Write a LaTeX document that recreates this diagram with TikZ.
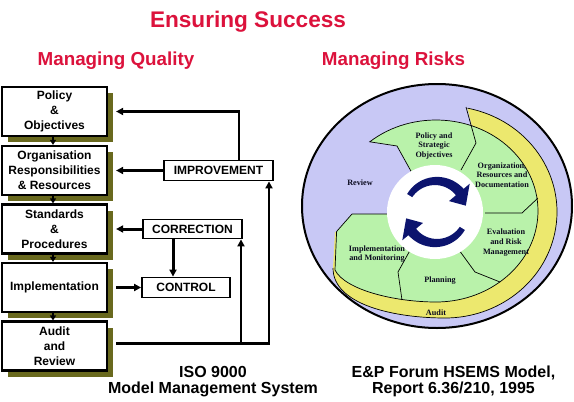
\documentclass[tikz,border=0pt]{standalone}
\usepackage{fontspec}
\setmainfont{Liberation Serif}
\newfontfamily\arialf{Liberation Sans}
\usetikzlibrary{arrows.meta,shadows}
\definecolor{ttl}{RGB}{220,18,60}
\definecolor{shd}{RGB}{105,105,30}
\definecolor{lav}{RGB}{200,200,245}
\definecolor{grn}{RGB}{185,242,170}
\definecolor{ylw}{RGB}{236,232,110}
\definecolor{nvy}{RGB}{12,20,110}
\definecolor{ctxt}{RGB}{10,10,30}
\begin{document}
\begin{tikzpicture}[x=1pt,y=-1pt,
  box/.style={draw, line width=2.2pt, fill=white, minimum width=105pt, minimum height=49pt,
    inner sep=0pt, align=center, font=\arialf\bfseries\fontsize{12}{14.8}\selectfont,
    general shadow={fill=shd, shadow xshift=6pt, shadow yshift=-6pt}},
  lbox/.style={draw, line width=1.8pt, fill=white, inner sep=0pt,
    font=\arialf\bfseries\fontsize{12}{14}\selectfont},
  fb/.style={line width=2.2pt, -{Triangle[length=7pt,width=7pt]}},
  thk/.style={line width=3pt, -{Triangle[length=7pt,width=7pt]}},
  dn/.style={line width=2pt, -{Triangle[length=5pt,width=6pt]}},
  dv/.style={line width=0.7pt},
  ctx/.style={font=\bfseries\fontsize{8.2}{9.6}\selectfont, align=center, text=ctxt, inner sep=0pt},
  ttlf/.style={text=ttl, inner sep=0pt, anchor=base},
  captxt/.style={inner sep=0pt, anchor=base, font=\arialf\bfseries\fontsize{16}{16}\selectfont}]
\fill[white] (0,0) rectangle (574,402);
\useasboundingbox (0,0) rectangle (574,402);

% titles
\node[ttlf, font=\arialf\bfseries\fontsize{22.6}{24}\selectfont] (t0) at (248,27) {Ensuring Success};
\node[ttlf, font=\arialf\bfseries\fontsize{18.8}{20}\selectfont] (t1) at (116,65) {Managing Quality};
\node[ttlf, font=\arialf\bfseries\fontsize{18.8}{20}\selectfont] (t2) at (393.5,65) {Managing Risks};

% left boxes
\node[box] (b1) at (54.5,111.5) {Policy\\\&\\Objectives};
\node[box] (b2) at (54.5,170.5) {Organisation\\Responsibilities\\\& Resources};
\node[box] (b3) at (54.5,229) {Standards\\\&\\Procedures};
\node[box] (b4) at (54.5,287.5) {Implementation};
\node[box] (b5) at (54.5,346) {Audit\\and\\Review};

\node[lbox, minimum width=109pt, minimum height=20pt] (impr) at (218.5,170.5) {IMPROVEMENT};
\node[lbox, minimum width=99pt, minimum height=19pt] (corr) at (192.5,229) {CORRECTION};
\node[lbox, minimum width=88pt, minimum height=20pt] (ctrl) at (186,287.5) {CONTROL};

\draw[dn] ([xshift=-1.5pt]b1.south) -- ([xshift=-1.5pt]b2.north);
\draw[dn] ([xshift=-1.5pt]b2.south) -- ([xshift=-1.5pt]b3.north);
\draw[dn] ([xshift=-1.5pt]b3.south) -- ([xshift=-1.5pt]b4.north);
\draw[dn] ([xshift=-1.5pt]b4.south) -- ([xshift=-1.5pt]b5.north);

\draw[thk] (impr.west) -- ([xshift=8pt]b2.east);
\draw[thk] (corr.west) -- ([xshift=8pt]b3.east);
\draw[thk] ([xshift=8pt]b4.east) -- (ctrl.west);
\draw[thk] ([xshift=-19.5pt]corr.south) -- ([xshift=-19.5pt]corr.south |- ctrl.north);
\draw[fb] ([xshift=20.5pt]impr.north) |- ([xshift=8pt]b1.east);

\coordinate (a0) at ([xshift=8pt,yshift=2.5pt]b5.east);
\coordinate (j2) at ([xshift=50.5pt]impr.south);
\coordinate (j1) at ([xshift=48.5pt]corr.south);
\draw[fb] (a0) -| (j2);
\draw[fb] (a0 -| j1) -- (j1);

% captions
\node[captxt] (c1) at (213,377) {ISO 9000};
\node[captxt] (c2) at (213,393) {Model Management System};
\node[captxt] (c3) at (453.5,377) {E\&P Forum HSEMS Model,};
\node[captxt] (c4) at (453.5,393) {Report 6.36/210, 1995};

% right circle diagram
\filldraw[fill=lav, draw=black, line width=2pt] (437,206) ellipse[x radius=135, y radius=122];
\fill[ylw] ([shift={(445,212)}]-78.4:112 and 106) arc[start angle=-78.4, end angle=90, x radius=112, y radius=106]
   .. controls (395,318) and (333,305) .. (333,268) -- (335,232) -- (440,212) -- (476,143) -- cycle;
\draw[dv] ([shift={(445,212)}]-78.4:112 and 106) arc[start angle=-78.4, end angle=90, x radius=112, y radius=106]
   .. controls (395,318) and (333,305) .. (333,268);
\filldraw[fill=grn, draw=black, line width=0.7pt]
   ([shift={(436,211)}]-130.5:102 and 91) arc[start angle=-130.5, end angle=90, x radius=102, y radius=91]
   .. controls (395,302) and (345,290) .. (335,270) -- (336.6,231.5) -- (352,214) -- (388,214)
   -- (412,173) -- (397,146) -- cycle;
\draw[dv] (466,107) -- (476,143) -- (461,170);
\draw[dv] (538,198) -- (522,213) -- (485,213);
\draw[dv] (500,282) -- (475,272) -- (459,250);
\draw[dv] (402,300) -- (398,272) -- (413,245);
\fill[white] (435,212) ellipse[x radius=48, y radius=47];

% circular arrows
\fill[nvy] plot[domain=212:320,samples=40] ({436+(34+2*(\x-212)/108)*cos(\x)},{212+(34+2*(\x-212)/108)*sin(\x)})
  -- ({436+44*cos(320)},{212+44*sin(320)}) -- ({436+30.5*cos(348)},{212+30.5*sin(348)})
  -- ({436+17*cos(320)},{212+17*sin(320)})
  -- plot[domain=320:212,samples=40] ({436+(28-2*(\x-212)/108)*cos(\x)},{212+(28-2*(\x-212)/108)*sin(\x)}) -- cycle;
\fill[nvy] plot[domain=32:140,samples=40] ({436+(34+2*(\x-32)/108)*cos(\x)},{212+(34+2*(\x-32)/108)*sin(\x)})
  -- ({436+44*cos(140)},{212+44*sin(140)}) -- ({436+30.5*cos(168)},{212+30.5*sin(168)})
  -- ({436+17*cos(140)},{212+17*sin(140)})
  -- plot[domain=140:32,samples=40] ({436+(28-2*(\x-32)/108)*cos(\x)},{212+(28-2*(\x-32)/108)*sin(\x)}) -- cycle;

% circle texts
\node[ctx] (tpol) at (434,146) {Policy and\\Strategic\\Objectives};
\node[ctx] (torg) at (502,175) {Organization,\\Resources and\\Documentation};
\node[ctx] (trev) at (360,183) {Review};
\node[ctx] (teva) at (506,242.5) {Evaluation\\and Risk\\Management};
\node[ctx] (timp) at (377,254) {Implementation\\and Monitoring};
\node[ctx] (tpla) at (440,281) {Planning};
\node[ctx] (taud) at (436,313) {Audit};
\end{tikzpicture}
\end{document}
